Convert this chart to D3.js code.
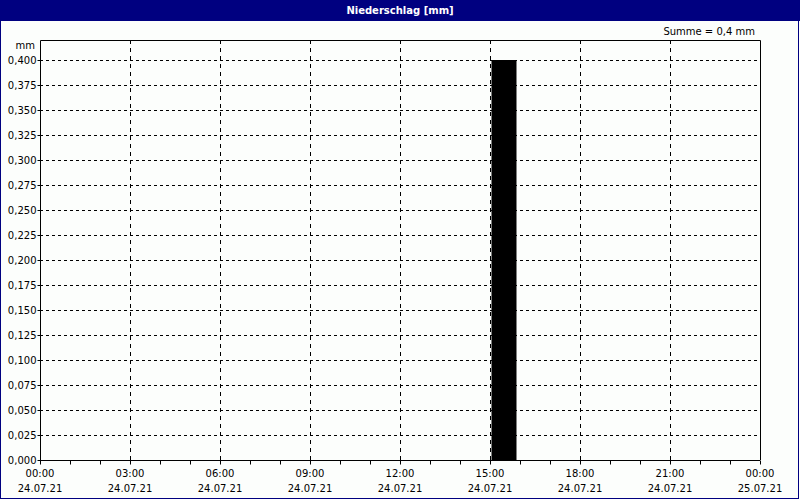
<!DOCTYPE html>
<html>
<head>
<meta charset="utf-8">
<script src="https://cdn.jsdelivr.net/npm/d3@7"></script>
<style>
  body { margin: 0; background: #fff; }
  text { font-family: Tahoma, "DejaVu Sans", sans-serif; font-size: 10px; fill: #000; }
</style>
</head>
<body>
<div id="chart"></div>
<script>
/* Niederschlag 24.07.21 */

var title = "Niederschlag [mm]";
var sumText = "Summe = 0,4 mm";
var unit = "mm";

// hourly rain, only non-zero hours listed
var barStarts = ["2021-07-24T15:00"];
var barValues = [0.4];

var yTicks = [0, 0.025, 0.05, 0.075, 0.1, 0.125, 0.15, 0.175, 0.2, 0.225, 0.25, 0.275, 0.3, 0.325, 0.35, 0.375, 0.4];

var width = 800, height = 500;
var margin = {top: 40, right: 40, bottom: 40, left: 40};

var parse = d3.timeParse("%Y-%m-%dT%H:%M");
var t0 = parse("2021-07-24T00:00"), t1 = parse("2021-07-25T00:00");

var x = d3.scaleTime()
    .domain([t0, t1])
    .range([margin.left, width - margin.right]);

var y = d3.scaleLinear()
    .domain([0, 0.42])
    .range([height - margin.bottom, margin.top]);

var fmt = d3.format(".3f");
var comma = function(v) { return fmt(v).replace(".", ","); };

var svg = d3.select("#chart").append("svg")
    .attr("width", width)
    .attr("height", height);

// frame + title bar
svg.append("rect")
    .attr("x", 0.5).attr("y", 0.5)
    .attr("width", width - 2).attr("height", height - 2)
    .attr("fill", "#fcfefc")
    .attr("stroke", "#000080");

svg.append("rect")
    .attr("x", 0).attr("y", 0)
    .attr("width", width).attr("height", 21)
    .attr("fill", "#000080");

svg.append("text")
    .attr("x", width / 2).attr("y", 14)
    .attr("text-anchor", "middle")
    .style("fill", "#fff")
    .style("font-weight", "bold")
    .text(title);

svg.append("text")
    .attr("x", 755).attr("y", 35)
    .attr("text-anchor", "end")
    .text(sumText);

svg.append("text")
    .attr("x", 35).attr("y", 49)
    .attr("text-anchor", "end")
    .text(unit);

// grid
var hours3 = d3.timeHour.every(3).range(t0, d3.timeHour.offset(t1, 1));
svg.append("g")
    .selectAll("line.hg")
    .data(yTicks.filter(function(d) { return d > 0; }))
    .enter().append("line")
    .attr("x1", margin.left).attr("x2", width - margin.right)
    .attr("y1", function(d) { return Math.round(y(d)) + 0.5; })
    .attr("y2", function(d) { return Math.round(y(d)) + 0.5; })
    .attr("stroke", "#000")
    .attr("stroke-dasharray", "3,3");

svg.append("g")
    .selectAll("line.vg")
    .data(hours3.slice(1, -1))
    .enter().append("line")
    .attr("x1", function(d) { return Math.round(x(d)) + 0.5; })
    .attr("x2", function(d) { return Math.round(x(d)) + 0.5; })
    .attr("y1", margin.top).attr("y2", height - margin.bottom)
    .attr("stroke", "#000")
    .attr("stroke-dasharray", "4,4");

// bars
svg.append("g")
    .selectAll("rect")
    .data(barStarts.map(function(s, i) { return {t: parse(s), v: barValues[i]}; }))
    .enter().append("rect")
    .attr("x", function(d) { return x(d.t) + 1.5; })
    .attr("width", function(d) { return x(d3.timeHour.offset(d.t, 1)) - x(d.t) - 5; })
    .attr("y", function(d) { return y(d.v); })
    .attr("height", function(d) { return y(0) - y(d.v); })
    .attr("fill", "#000");

// plot border (top/left/right)
svg.append("path")
    .attr("d", "M" + (margin.left + 0.5) + "," + (height - margin.bottom) +
         "V" + (margin.top + 0.5) + "H" + (width - margin.right + 0.5) +
         "V" + (height - margin.bottom))
    .attr("fill", "none")
    .attr("stroke", "#000");

// y axis
var yAxis = d3.axisLeft(y)
    .tickValues(yTicks)
    .tickSize(3)
    .tickFormat(comma);
svg.append("g")
    .attr("transform", "translate(" + (margin.left + 0.5) + ",0)")
    .call(yAxis)
    .call(function(g) { g.select(".domain").remove(); })
    .call(function(g) { g.selectAll("text").attr("dy", "0.35em").attr("x", -4)
        .style("font-family", "Tahoma, 'DejaVu Sans', sans-serif").style("font-size", "10px"); });

// x axis: minor hourly ticks, labels every 3h
var xAxis = d3.axisBottom(x)
    .ticks(d3.timeHour.every(1))
    .tickSize(4)
    .tickFormat("");
svg.append("g")
    .attr("transform", "translate(0," + (height - margin.bottom + 0.5) + ")")
    .call(xAxis)
    .call(function(g) {
        g.select(".domain").attr("d", "M" + margin.left + ",0H" + (width - margin.right));
    });

var lab = svg.append("g")
    .selectAll("g")
    .data(hours3.filter(function(d) { return d <= t1; }))
    .enter().append("g")
    .attr("transform", function(d) { return "translate(" + x(d) + ",0)"; });
lab.append("text")
    .attr("y", 477)
    .attr("text-anchor", "middle")
    .text(d3.timeFormat("%H:%M"));
lab.append("text")
    .attr("y", 492)
    .attr("text-anchor", "middle")
    .text(d3.timeFormat("%d.%m.%y"));
</script>
</body>
</html>
